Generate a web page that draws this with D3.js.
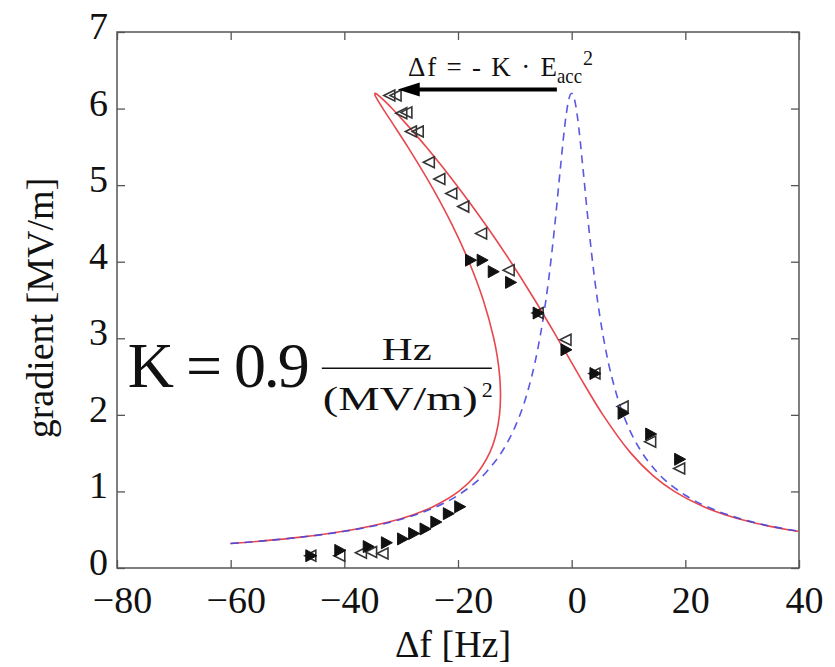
<!DOCTYPE html>
<html>
<head>
<meta charset="utf-8">
<script src="https://cdn.jsdelivr.net/npm/d3@7"></script>
<style>
  body { margin: 0; background: #fff; }
</style>
</head>
<body>
<div id="graph"></div>
<script>
/*******************************************************************************
* Data
*******************************************************************************/
var xTicks = [-80, -60, -40, -20, 0, 20, 40];
var yTicks = [0, 1, 2, 3, 4, 5, 6, 7];

// blue dashed: resonance without Lorentz detuning
var lorentzF = [-60, -50, -40, -30, -25, -20, -15, -12, -10, -8, -6, -5, -4, -3, -2, -1, -0.5, 0,
                0.5, 1, 2, 3, 4, 5, 6, 8, 10, 12, 15, 20, 25, 30, 40];
var lorentzE = [0.320, 0.384, 0.479, 0.637, 0.763, 0.950, 1.255, 1.551, 1.836, 2.240, 2.846, 3.267, 3.797, 4.455, 5.210, 5.901, 6.121, 6.2,
                6.121, 5.901, 5.210, 4.455, 3.797, 3.267, 2.846, 2.240, 1.836, 1.551, 1.255, 0.950, 0.763, 0.637, 0.479];

// red: detuned resonance curve (lower/left branch up to the tip, then right branch down)
var detunedF = [-60.07, -54.93, -48.09, -38.54, -32.21, -27.72, -24.40, -19.87, -17.01, -14.46, -13.29, -12.70, -12.52, -12.66, -13.07,
                -13.71, -15.56, -18.07, -21.16, -24.77, -28.84, -31.45, -33.21, -34.05, -34.62, -34.60,
                -34.12, -32.93, -31.59, -29.11, -25.61, -20.23, -15.29, -10.73, -6.49, -2.49, 1.41, 5.50, 10.41,
                14.41, 18.07, 23.24, 26.84, 31.56, 38.08, 39.88];
var detunedE = [0.32, 0.35, 0.4, 0.5, 0.6, 0.7, 0.8, 1.0, 1.2, 1.5, 1.75, 2.0, 2.25, 2.5, 2.75,
                3.0, 3.5, 4.0, 4.5, 5.0, 5.5, 5.8, 6.0, 6.1, 6.18, 6.2,
                6.18, 6.1, 6.0, 5.8, 5.5, 5.0, 4.5, 4.0, 3.5, 3.0, 2.5, 2.0, 1.5,
                1.2, 1.0, 0.8, 0.7, 0.6, 0.5, 0.478];

// filled right-pointing triangles (sweep up)
var upF = [-45.9, -40.8, -35.8, -32.6, -29.75, -27.8, -25.8, -23.9, -21.7, -19.7,
           -17.8, -15.75, -13.8, -10.75, -5.9, -1.0, 4.1, 9.05, 13.9, 19.0];
var upE = [0.16, 0.23, 0.28, 0.33, 0.38, 0.45, 0.51, 0.60, 0.71, 0.80,
           4.02, 4.02, 3.87, 3.73, 3.33, 2.85, 2.54, 2.02, 1.75, 1.42];

// open left-pointing triangles (sweep down)
var downF = [-45.9, -40.8, -37.0, -35.2, -33.2,
             -32.0, -30.9, -29.9, -29.0, -28.2, -27.0, -25.05, -23.2, -21.1, -19.0, -15.85,
             -11.0, -5.9, -1.0, 4.1, 9.05, 13.9, 19.0];
var downE = [0.16, 0.16, 0.20, 0.21, 0.19,
             6.17, 6.17, 5.94, 5.95, 5.70, 5.70, 5.30, 5.08, 4.89, 4.72, 4.37,
             3.89, 3.33, 2.98, 2.54, 2.11, 1.65, 1.30];

/*******************************************************************************
* Svg Container
*******************************************************************************/
var fullWidth = 835;
var fullHeight = 667;
var margin = {left: 117, right: 36, top: 32, bottom: 99};
var serif = '"Liberation Serif", serif';

var container = d3.select("#graph").append("svg")
  .attr("width", fullWidth)
  .attr("height", fullHeight);

var x = d3.scaleLinear().domain([-80, 40]).range([margin.left, fullWidth - margin.right]);
var y = d3.scaleLinear().domain([0, 7]).range([fullHeight - margin.bottom, margin.top]);

var axisColor = "#555";

function addText(g, str, size){
  return g.append("text")
    .style("font-family", serif)
    .style("font-size", size + "px")
    .attr("fill", "#111")
    .text(str);
}

/*******************************************************************************
* axes (inward ticks on all four sides, MATLAB box)
*******************************************************************************/
function styleAxis(g){
  g.attr("font-family", null);
  g.select(".domain").remove();
  g.selectAll(".tick line").attr("stroke", axisColor).attr("stroke-width", 1.3);
  g.selectAll(".tick text")
    .style("font-family", serif)
    .style("font-size", "38px")
    .attr("fill", "#111");
}

var fmt = d3.format("d");

container.append("g")
  .attr("transform", "translate(0," + y(0) + ")")
  .call(d3.axisBottom(x).tickValues(xTicks).tickFormat(fmt).tickSize(-8).tickPadding(18))
  .call(styleAxis)
  .selectAll(".tick text").attr("dx", 5);

container.append("g")
  .attr("transform", "translate(" + x(-80) + ",0)")
  .call(d3.axisLeft(y).tickValues(yTicks).tickFormat(fmt).tickSize(-8).tickPadding(9))
  .call(styleAxis)
  .selectAll(".tick text").attr("dy", "0.17em");

container.append("g")
  .attr("transform", "translate(0," + y(7) + ")")
  .call(d3.axisTop(x).tickValues(xTicks).tickSize(-8).tickFormat(""))
  .call(styleAxis);

container.append("g")
  .attr("transform", "translate(" + x(40) + ",0)")
  .call(d3.axisRight(y).tickValues(yTicks).tickSize(-8).tickFormat(""))
  .call(styleAxis);

container.append("rect")
  .attr("x", x(-80))
  .attr("y", y(7))
  .attr("width", x(40) - x(-80))
  .attr("height", y(0) - y(7))
  .attr("fill", "none")
  .attr("stroke", axisColor)
  .attr("stroke-width", 1.5);

/*******************************************************************************
* curves
*******************************************************************************/
var detunedData = detunedF.map(function(f, i){ return [f, detunedE[i]]; });
var lorentzData = lorentzF.map(function(f, i){ return [f, lorentzE[i]]; });

var line = d3.line()
  .x(function(d){ return x(d[0]); })
  .y(function(d){ return y(d[1]); });

container.append("path")
  .datum(detunedData)
  .attr("d", line.curve(d3.curveCatmullRom.alpha(0.5)))
  .attr("fill", "none")
  .attr("stroke", "#e8474d")
  .attr("stroke-width", 1.6);

container.append("path")
  .datum(lorentzData)
  .attr("d", line.curve(d3.curveMonotoneX))
  .attr("fill", "none")
  .attr("stroke", "#4646e0")
  .attr("stroke-width", 1.6)
  .attr("stroke-dasharray", "8,6")
  .attr("opacity", 0.9);

/*******************************************************************************
* measured points
*******************************************************************************/
var downData = downF.map(function(f, i){ return {f: f, e: downE[i]}; });
var upData = upF.map(function(f, i){ return {f: f, e: upE[i]}; });

container.append("g").selectAll("path")
  .data(downData)
  .enter()
  .append("path")
  .attr("d", "M5,-5.5L-6,0L5,5.5Z")
  .attr("transform", function(d){ return "translate(" + x(d.f) + "," + y(d.e) + ")"; })
  .attr("fill", "none")
  .attr("stroke", "#333")
  .attr("stroke-width", 1.6);

container.append("g").selectAll("path")
  .data(upData)
  .enter()
  .append("path")
  .attr("d", "M-5,-6L6,0L-5,6Z")
  .attr("transform", function(d){ return "translate(" + x(d.f) + "," + y(d.e) + ")"; })
  .attr("fill", "#111")
  .attr("stroke", "#111")
  .attr("stroke-width", 1);

/*******************************************************************************
* annotations
*******************************************************************************/
var arrowFrom = [-2.6, 6.25];
var arrowTo = [-30.6, 6.25];

container.append("line")
  .attr("x1", x(arrowFrom[0]))
  .attr("y1", y(arrowFrom[1]))
  .attr("x2", x(arrowTo[0]) + 18)
  .attr("y2", y(arrowTo[1]))
  .attr("stroke", "#000")
  .attr("stroke-width", 4);

container.append("path")
  .attr("d", "M0,0L22,-7L22,7Z")
  .attr("transform", "translate(" + x(arrowTo[0]) + "," + y(arrowTo[1]) + ")")
  .attr("fill", "#000");

var eqAt = [-28.8, 6.42];
var eq = container.append("g")
  .attr("transform", "translate(" + x(eqAt[0]) + "," + y(eqAt[1]) + ")");
addText(eq, "Δf = - K · E", 27)
  .attr("textLength", 149)
  .attr("lengthAdjust", "spacing");
addText(eq, "acc", 21)
  .attr("x", 149)
  .attr("y", 7)
  .attr("textLength", 25)
  .attr("lengthAdjust", "spacingAndGlyphs");
addText(eq, "2", 20)
  .attr("x", 175)
  .attr("y", -11);

var kAt = [-78.1, 2.36];
var kg = container.append("g")
  .attr("transform", "translate(" + x(kAt[0]) + "," + y(kAt[1]) + ")");
addText(kg, "K = 0.9", 64)
  .attr("textLength", 182)
  .attr("lengthAdjust", "spacing");
addText(kg, "Hz", 32)
  .attr("x", 279)
  .attr("y", -27)
  .attr("text-anchor", "middle")
  .attr("textLength", 50)
  .attr("lengthAdjust", "spacingAndGlyphs");
kg.append("line")
  .attr("x1", 194)
  .attr("x2", 364)
  .attr("y1", -19)
  .attr("y2", -19)
  .attr("stroke", "#111")
  .attr("stroke-width", 1.6);
addText(kg, "(MV/m)", 34)
  .attr("x", 195)
  .attr("y", 23)
  .attr("textLength", 155)
  .attr("lengthAdjust", "spacingAndGlyphs");
addText(kg, "2", 22)
  .attr("x", 354)
  .attr("y", 10);

/*******************************************************************************
* axis labels
*******************************************************************************/
addText(container, "Δf [Hz]", 38)
  .attr("x", 453)
  .attr("y", 657)
  .attr("text-anchor", "middle");

addText(container, "gradient [MV/m]", 38)
  .attr("transform", "translate(53,308) rotate(-90)")
  .attr("text-anchor", "middle");
</script>
</body>
</html>
